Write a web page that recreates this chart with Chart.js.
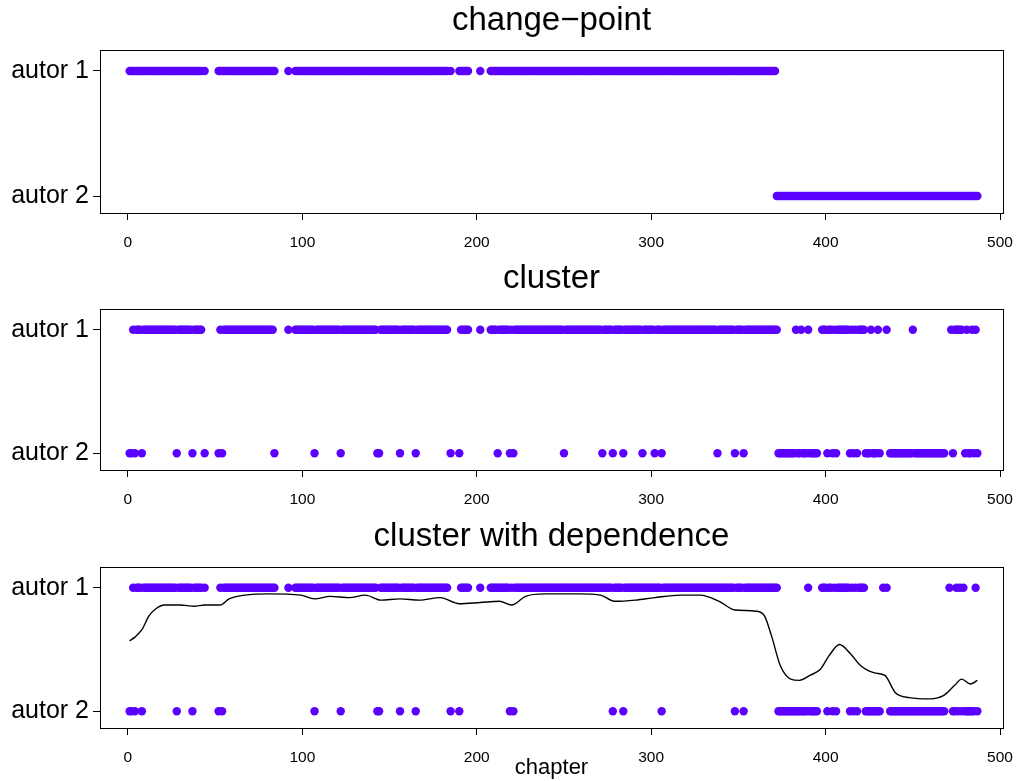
<!DOCTYPE html>
<html>
<head>
<meta charset="utf-8">
<script src="https://cdn.jsdelivr.net/npm/chart.js@4.4.1/dist/chart.umd.min.js"></script>
<style>
  body { margin: 0; background: #fff; }
  canvas { position: absolute; left: 0; }
</style>
</head>
<body>
<canvas id="changepoint-chart" width="1017" height="258" style="top:0px"></canvas>
<canvas id="cluster-chart" width="1017" height="258" style="top:258px"></canvas>
<canvas id="dependence-chart" width="1017" height="265" style="top:516px"></canvas>
<script>
// author per chapter (chapter 1 = first char): 1 = autor 1, 2 = autor 2, 0 = chapter not in data
// written in blocks of 10 chapters, 50 chapters per line
const changePointAuthor = (
    '1111111111 1111111111 1111111111 1111111111 1101000000 ' +
    '0111111111 1111111111 1111111111 1111000000 0100011111 ' +
    '1111111111 1111111111 1111111111 1111111111 1111111111 ' +
    '1111111111 1111111111 1111111111 1110100001 1111100000 ' +
    '0100000111 1111111111 1111111111 1111111111 1111111111 ' +
    '1111111111 1111111111 1111111111 1111111111 1111111111 ' +
    '1111111111 1111111111 1111111111 1111111111 1111111111 ' +
    '1111111111 1111111111 1222222222 2222222222 2222222222 ' +
    '2222222222 2222222222 2222222222 2222222222 2222222222 ' +
    '2222222222 2222222222 2222222222 2222222'
).replace(/ /g, '');

const clusterAuthor = (
    '2212111211 1111111111 1111111211 1111112111 1102000000 ' +
    '0212111111 1111111111 1111111111 1112000000 0100011111 ' +
    '1111112111 1111111111 1211111111 1111111111 1122111111 ' +
    '1111121111 1111211111 1111111111 1110200002 1111100000 ' +
    '0100000111 1211111121 2111111111 1111111111 1111111112 ' +
    '1111111111 1111111111 1211111211 1112111111 1111211111 ' +
    '1211121111 1111111111 1111111111 1111111211 1111111211 ' +
    '1121111111 1111111111 1122222222 2212212221 2222200111 ' +
    '2112121111 1112121211 1122212221 2000102222 2222222221 ' +
    '2222222222 2222222200 0121111102 1221212'
).replace(/ /g, '');

const dependenceAuthor = (
    '2212111211 1111111111 1111111211 1111112111 1101000000 ' +
    '0212111111 1111111111 1111111111 1111000000 0100011111 ' +
    '1111112111 1111111111 1211111111 1111111111 1122111111 ' +
    '1111121111 1111211111 1111111111 1110200002 1111100000 ' +
    '0100000111 1111111121 2111111111 1111111111 1111111111 ' +
    '1111111111 1111111111 1111111211 1112111111 1111111111 ' +
    '1111121111 1111111111 1111111111 1111111111 1111111211 ' +
    '1121111111 1111111111 1122222222 2222222221 2222200111 ' +
    '2112121111 1112121211 1122222222 2010102222 2222222222 ' +
    '2222222222 2222222200 1022121212 2222212'
).replace(/ /g, '');

// smoothed probability of autor 1 (panel 3), read at chapters
const probChapters = [1, 4, 8, 12, 16, 21, 30, 38, 44, 53, 58, 67, 81, 99, 107, 116, 127, 136, 145, 156, 167, 179, 190, 202, 213, 220, 228, 239, 259, 271, 279, 291, 302, 317, 328, 339, 348, 360, 365, 369, 374, 380, 385, 391, 397, 402, 408, 414, 420, 428, 434, 440, 448, 460, 468, 474, 478, 483, 487];
const probValues = [0.57, 0.60, 0.66, 0.77, 0.83, 0.86, 0.86, 0.85, 0.86, 0.86, 0.91, 0.94, 0.95, 0.94, 0.91, 0.93, 0.92, 0.94, 0.90, 0.91, 0.90, 0.92, 0.87, 0.88, 0.89, 0.86, 0.93, 0.95, 0.95, 0.94, 0.89, 0.90, 0.92, 0.94, 0.94, 0.89, 0.82, 0.81, 0.77, 0.61, 0.37, 0.26, 0.25, 0.29, 0.34, 0.45, 0.54, 0.47, 0.37, 0.31, 0.29, 0.15, 0.11, 0.10, 0.13, 0.21, 0.26, 0.22, 0.25];

const xTicks = [0, 100, 200, 300, 400, 500];
const authorLabels = ['autor 2', 'autor 1'];

const pointColor = '#5b00ff';
const fontFamily = '"Liberation Sans", Arial, Helvetica, sans-serif';

// box around the plot region and a title centred over it (R style)
const boxPlugin = {
    id: 'box',
    afterDraw(chart, args, options) {
        const a = chart.chartArea;
        const ctx = chart.ctx;
        ctx.save();
        ctx.strokeStyle = '#000';
        ctx.lineWidth = 1;
        ctx.strokeRect(Math.round(a.left) + 0.5, Math.round(a.top) + 0.5,
            Math.round(a.right - a.left), Math.round(a.bottom - a.top));
        ctx.fillStyle = '#000';
        ctx.font = '33px ' + fontFamily;
        ctx.textAlign = 'center';
        ctx.textBaseline = 'middle';
        ctx.fillText(options.text, (a.left + a.right) / 2, options.y);
        ctx.restore();
    }
};

function authorPoints(assignment, author) {
    const pts = [];
    for (let i = 0; i < assignment.length; i++) {
        if (assignment[i] === String(author)) {
            pts.push({ x: i + 1, y: author === 1 ? 1 : 0 });
        }
    }
    return pts;
}

function makeChart(canvasId, title, assignment, opts) {
    const canvas = document.getElementById(canvasId);
    if (!canvas) {
        console.error('Canvas Element was not found!');
        return null;
    }
    const ctx = canvas.getContext('2d');

    const datasets = [
        {
            type: 'scatter',
            data: authorPoints(assignment, 1),
            backgroundColor: pointColor,
            borderWidth: 0,
            pointRadius: 4.2,
        },
        {
            type: 'scatter',
            data: authorPoints(assignment, 2),
            backgroundColor: pointColor,
            borderWidth: 0,
            pointRadius: 4.2,
        }
    ];

    if (opts.curve) {
        datasets.push({
            type: 'line',
            data: probChapters.map((c, i) => ({ x: c, y: probValues[i] })),
            borderColor: '#000',
            borderWidth: 1.4,
            pointRadius: 0,
            fill: false,
            cubicInterpolationMode: 'monotone',
        });
    }

    return new Chart(ctx, {
        type: 'scatter',
        data: { datasets: datasets },
        plugins: [boxPlugin],
        options: {
            responsive: false,
            animation: false,
            events: [],
            layout: { padding: { left: 0, right: 14, top: opts.top, bottom: 0 } },
            plugins: {
                legend: { display: false },
                tooltip: { enabled: false },
                title: { display: false },
                box: { text: title, y: 21 }
            },
            scales: {
                x: {
                    type: 'linear',
                    min: -16,
                    max: 501.7,
                    afterBuildTicks: (scale) => { scale.ticks = xTicks.map(v => ({ value: v })); },
                    afterFit: (scale) => {
                        scale.height = opts.xHeight;
                        scale.paddingLeft = 0;
                        scale.paddingRight = 0;
                    },
                    grid: { drawOnChartArea: false, drawTicks: true, tickLength: 7, color: '#000' },
                    border: { display: false },
                    ticks: {
                        color: '#000',
                        padding: 13,
                        maxRotation: 0,
                        font: { family: fontFamily, size: 15.5 }
                    },
                    title: {
                        display: !!opts.xTitle,
                        text: opts.xTitle || '',
                        color: '#000',
                        padding: 0,
                        font: { family: fontFamily, size: 22 }
                    }
                },
                y: {
                    type: 'linear',
                    min: -0.136,
                    max: 1.168,
                    afterBuildTicks: (scale) => { scale.ticks = [{ value: 0 }, { value: 1 }]; },
                    afterFit: (scale) => {
                        scale.width = 100;
                        scale.paddingTop = 0;
                        scale.paddingBottom = 0;
                    },
                    grid: { drawOnChartArea: false, drawTicks: true, tickLength: 7, color: '#000' },
                    border: { display: false },
                    ticks: {
                        color: '#000',
                        padding: 4,
                        callback: (v) => authorLabels[v],
                        font: { family: fontFamily, size: 25 }
                    }
                }
            }
        }
    });
}

makeChart('changepoint-chart', 'change\u2212point', changePointAuthor, { top: 50, xHeight: 45 });
makeChart('cluster-chart', 'cluster', clusterAuthor, { top: 51, xHeight: 46 });
makeChart('dependence-chart', 'cluster with dependence', dependenceAuthor, { top: 51, xHeight: 53, curve: true, xTitle: 'chapter' });
</script>
</body>
</html>
